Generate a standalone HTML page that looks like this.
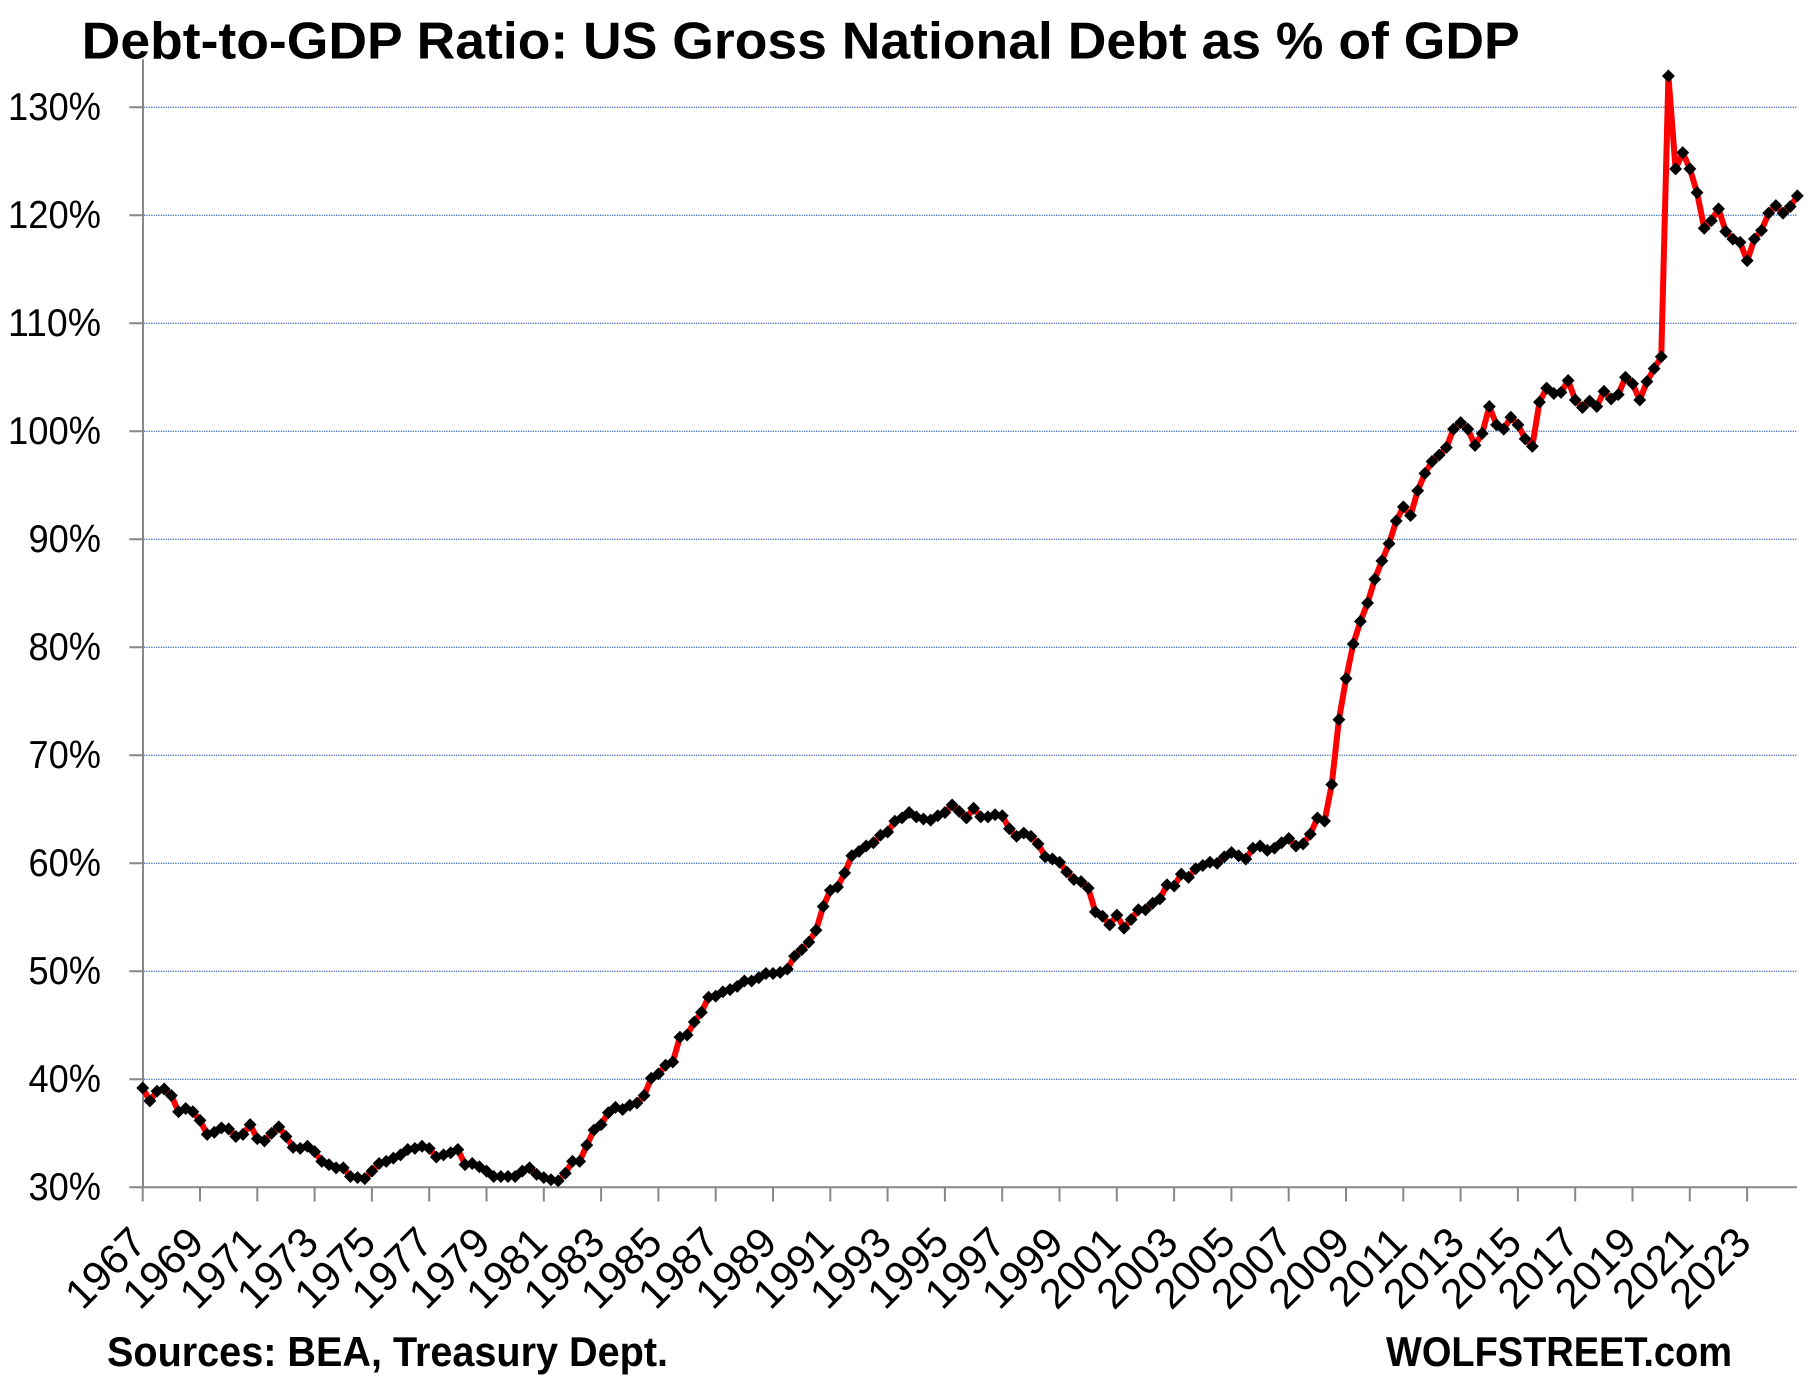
<!DOCTYPE html>
<html>
<head>
<meta charset="utf-8">
<style>
html,body{margin:0;padding:0;background:#fff;}
svg{display:block;}
text{font-family:"Liberation Sans",Arial,sans-serif;fill:#000;}
</style>
</head>
<body>
<svg width="1812" height="1388" viewBox="0 0 1812 1388" xmlns="http://www.w3.org/2000/svg">
<defs>
<marker id="dm" markerUnits="userSpaceOnUse" orient="0" refX="0" refY="0" markerWidth="3" markerHeight="3" overflow="visible">
<path d="M0,-0.6 L0.9,0 L0,0.6 L-0.9,0 Z" fill="#000"/>
</marker>
</defs>
<rect x="0" y="0" width="1812" height="1388" fill="#fff"/>

<!-- Title -->
<text x="81.7" y="58.3" font-size="52" font-weight="bold" textLength="1438" lengthAdjust="spacingAndGlyphs">Debt-to-GDP Ratio: US Gross National Debt as % of GDP</text>

<!-- gridlines -->
<g stroke="#4470c0" stroke-width="1.3" stroke-dasharray="1.2 1.2" fill="none">
<line x1="144" y1="1079.3" x2="1797" y2="1079.3"/>
<line x1="144" y1="971.3" x2="1797" y2="971.3"/>
<line x1="144" y1="863.3" x2="1797" y2="863.3"/>
<line x1="144" y1="755.3" x2="1797" y2="755.3"/>
<line x1="144" y1="647.3" x2="1797" y2="647.3"/>
<line x1="144" y1="539.3" x2="1797" y2="539.3"/>
<line x1="144" y1="431.3" x2="1797" y2="431.3"/>
<line x1="144" y1="323.3" x2="1797" y2="323.3"/>
<line x1="144" y1="215.3" x2="1797" y2="215.3"/>
<line x1="144" y1="107.3" x2="1797" y2="107.3"/>
</g>

<!-- axes -->
<g stroke="#878787" stroke-width="2" fill="none">
<line x1="143" y1="59.3" x2="143" y2="1188"/>
<line x1="129.3" y1="1187.3" x2="1797" y2="1187.3"/>
<path d="M129.3,1079.3H143M129.3,971.3H143M129.3,863.3H143M129.3,755.3H143M129.3,647.3H143M129.3,539.3H143M129.3,431.3H143M129.3,323.3H143M129.3,215.3H143M129.3,107.3H143"/>
<path d="M142.7,1187.3V1201.5M200,1187.3V1201.5M257.3,1187.3V1201.5M314.6,1187.3V1201.5M371.9,1187.3V1201.5M429.2,1187.3V1201.5M486.5,1187.3V1201.5M543.8,1187.3V1201.5M601.1,1187.3V1201.5M658.4,1187.3V1201.5M715.7,1187.3V1201.5M773,1187.3V1201.5M830.3,1187.3V1201.5M887.6,1187.3V1201.5M944.9,1187.3V1201.5M1002.2,1187.3V1201.5M1059.5,1187.3V1201.5M1116.8,1187.3V1201.5M1174.1,1187.3V1201.5M1231.4,1187.3V1201.5M1288.7,1187.3V1201.5M1346,1187.3V1201.5M1403.3,1187.3V1201.5M1460.6,1187.3V1201.5M1517.9,1187.3V1201.5M1575.2,1187.3V1201.5M1632.5,1187.3V1201.5M1689.8,1187.3V1201.5M1747.1,1187.3V1201.5"/>
</g>

<!-- y labels -->
<g font-size="39" text-anchor="end">
<text x="101" y="1200" textLength="72.5" lengthAdjust="spacingAndGlyphs">30%</text>
<text x="101" y="1092" textLength="72.5" lengthAdjust="spacingAndGlyphs">40%</text>
<text x="101" y="984" textLength="72.5" lengthAdjust="spacingAndGlyphs">50%</text>
<text x="101" y="876" textLength="72.5" lengthAdjust="spacingAndGlyphs">60%</text>
<text x="101" y="768" textLength="72.5" lengthAdjust="spacingAndGlyphs">70%</text>
<text x="101" y="660" textLength="72.5" lengthAdjust="spacingAndGlyphs">80%</text>
<text x="101" y="552" textLength="72.5" lengthAdjust="spacingAndGlyphs">90%</text>
<text x="101" y="444" textLength="93" lengthAdjust="spacingAndGlyphs">100%</text>
<text x="101" y="336" textLength="93" lengthAdjust="spacingAndGlyphs">110%</text>
<text x="101" y="228" textLength="93" lengthAdjust="spacingAndGlyphs">120%</text>
<text x="101" y="120" textLength="93" lengthAdjust="spacingAndGlyphs">130%</text>
</g>

<!-- x labels -->
<g font-size="42" text-anchor="end">
<text transform="translate(148.7,1245) rotate(-45)">1967</text>
<text transform="translate(206,1245) rotate(-45)">1969</text>
<text transform="translate(263.3,1245) rotate(-45)">1971</text>
<text transform="translate(320.6,1245) rotate(-45)">1973</text>
<text transform="translate(377.9,1245) rotate(-45)">1975</text>
<text transform="translate(435.2,1245) rotate(-45)">1977</text>
<text transform="translate(492.5,1245) rotate(-45)">1979</text>
<text transform="translate(549.8,1245) rotate(-45)">1981</text>
<text transform="translate(607.1,1245) rotate(-45)">1983</text>
<text transform="translate(664.4,1245) rotate(-45)">1985</text>
<text transform="translate(721.7,1245) rotate(-45)">1987</text>
<text transform="translate(779,1245) rotate(-45)">1989</text>
<text transform="translate(836.3,1245) rotate(-45)">1991</text>
<text transform="translate(893.6,1245) rotate(-45)">1993</text>
<text transform="translate(950.9,1245) rotate(-45)">1995</text>
<text transform="translate(1008.2,1245) rotate(-45)">1997</text>
<text transform="translate(1065.5,1245) rotate(-45)">1999</text>
<text transform="translate(1122.8,1245) rotate(-45)">2001</text>
<text transform="translate(1180.1,1245) rotate(-45)">2003</text>
<text transform="translate(1237.4,1245) rotate(-45)">2005</text>
<text transform="translate(1294.7,1245) rotate(-45)">2007</text>
<text transform="translate(1352,1245) rotate(-45)">2009</text>
<text transform="translate(1409.3,1245) rotate(-45)">2011</text>
<text transform="translate(1466.6,1245) rotate(-45)">2013</text>
<text transform="translate(1523.9,1245) rotate(-45)">2015</text>
<text transform="translate(1581.2,1245) rotate(-45)">2017</text>
<text transform="translate(1638.5,1245) rotate(-45)">2019</text>
<text transform="translate(1695.8,1245) rotate(-45)">2021</text>
<text transform="translate(1753.1,1245) rotate(-45)">2023</text>
</g>

<!-- series -->
<g transform="translate(142.7,1511.3) scale(7.163,-10.8)">
<polyline fill="none" stroke="#ff0000" stroke-width="6" stroke-linejoin="round" stroke-linecap="round" vector-effect="non-scaling-stroke" marker-start="url(#dm)" marker-mid="url(#dm)" marker-end="url(#dm)" points="0,39.2 1,38 2,38.9 3,39.1 4,38.5 5,37 6,37.3 7,37 8,36.2 9,34.9 10,35.1 11,35.5 12,35.4 13,34.7 14,34.9 15,35.8 16,34.5 17,34.3 18,35 19,35.6 20,34.7 21,33.7 22,33.6 23,33.8 24,33.3 25,32.4 26,32.1 27,31.8 28,31.8 29,31 30,30.9 31,30.8 32,31.5 33,32.2 34,32.4 35,32.7 36,33 37,33.5 38,33.6 39,33.8 40,33.6 41,32.8 42,33 43,33.2 44,33.5 45,32.1 46,32.2 47,31.9 48,31.5 49,31 50,31 51,31 52,31 53,31.5 54,31.8 55,31.2 56,30.9 57,30.7 58,30.6 59,31.3 60,32.4 61,32.4 62,33.9 63,35.3 64,35.8 65,36.9 66,37.4 67,37.2 68,37.6 69,37.8 70,38.5 71,40.1 72,40.5 73,41.3 74,41.6 75,43.9 76,44.1 77,45.3 78,46.2 79,47.6 80,47.7 81,48.1 82,48.3 83,48.6 84,49.1 85,49.1 86,49.4 87,49.8 88,49.8 89,49.9 90,50.2 91,51.4 92,52 93,52.7 94,53.8 95,56 96,57.5 97,57.8 98,59.1 99,60.7 100,61.1 101,61.6 102,61.9 103,62.6 104,62.9 105,63.9 106,64.2 107,64.7 108,64.3 109,64.1 110,64 111,64.4 112,64.7 113,65.4 114,64.8 115,64.2 116,65.1 117,64.3 118,64.3 119,64.5 120,64.4 121,63.2 122,62.5 123,62.8 124,62.5 125,61.8 126,60.6 127,60.4 128,60.1 129,59.2 130,58.5 131,58.3 132,57.7 133,55.5 134,55.1 135,54.3 136,55.2 137,54 138,54.8 139,55.7 140,55.7 141,56.3 142,56.7 143,58 144,57.9 145,59 146,58.7 147,59.5 148,59.8 149,60.1 150,60 151,60.6 152,61 153,60.7 154,60.4 155,61.4 156,61.6 157,61.2 158,61.4 159,61.9 160,62.3 161,61.6 162,61.8 163,62.7 164,64.2 165,63.9 166,67.3 167,73.3 168,77.1 169,80.3 170,82.4 171,84.1 172,86.3 173,88 174,89.6 175,91.7 176,93 177,92.2 178,94.5 179,96.1 180,97.2 181,97.8 182,98.5 183,100.2 184,100.8 185,100.2 186,98.7 187,99.8 188,102.3 189,100.6 190,100.2 191,101.3 192,100.6 193,99.3 194,98.6 195,102.7 196,104 197,103.5 198,103.6 199,104.7 200,102.9 201,102.2 202,102.8 203,102.3 204,103.7 205,103 206,103.4 207,105 208,104.4 209,102.9 210,104.6 211,105.8 212,106.9 213,132.9 214,124.3 215,125.8 216,124.3 217,122.1 218,118.8 219,119.5 220,120.6 221,118.5 222,117.8 223,117.5 224,115.8 225,117.8 226,118.6 227,120.2 228,120.9 229,120.2 230,120.8 231,121.8"/>
</g>

<!-- footer -->
<text x="107" y="1366" font-size="42" font-weight="bold" textLength="561" lengthAdjust="spacingAndGlyphs">Sources: BEA, Treasury Dept.</text>
<text x="1386" y="1366" font-size="42" font-weight="bold" textLength="346" lengthAdjust="spacingAndGlyphs">WOLFSTREET.com</text>
</svg>
</body>
</html>
